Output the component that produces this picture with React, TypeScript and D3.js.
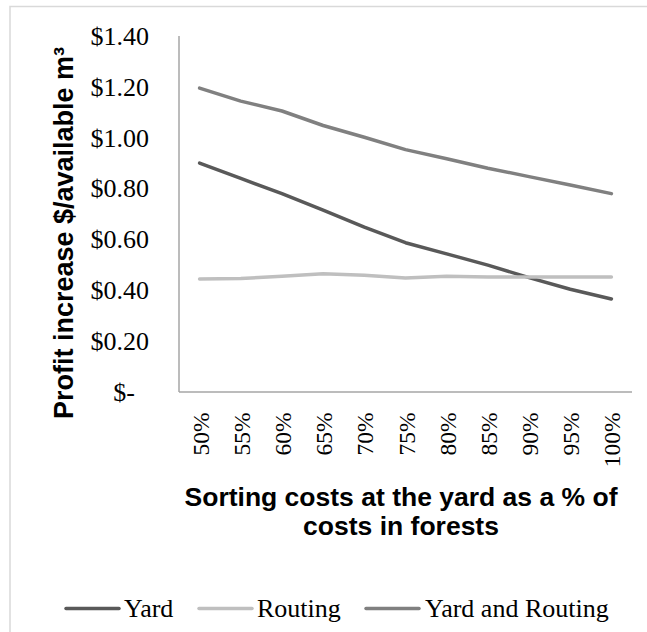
import React from "react";
import * as d3 from "d3";

const categories = ["50%", "55%", "60%", "65%", "70%", "75%", "80%", "85%", "90%", "95%", "100%"];
const yardValues = [0.9, 0.84, 0.78, 0.715, 0.648, 0.587, 0.543, 0.499, 0.45, 0.404, 0.366];
const routingValues = [0.444, 0.446, 0.455, 0.465, 0.459, 0.448, 0.455, 0.452, 0.452, 0.452, 0.452];
const yardRoutingValues = [1.195, 1.144, 1.105, 1.048, 1.002, 0.953, 0.917, 0.88, 0.847, 0.814, 0.78];
const yTicks = [0, 0.2, 0.4, 0.6, 0.8, 1.0, 1.2, 1.4];
const seriesNames = ["Yard", "Routing", "Yard and Routing"];
const seriesColors = ["#595959", "#bfbfbf", "#808080"];
const xTitleLines = ["Sorting costs at the yard as a % of", "costs in forests"];
const yTitle = "Profit increase $/available m³";

const W = 647;
const H = 632;
const plot = { left: 179, right: 632, top: 36, bottom: 392 };
const serif = "'Liberation Serif', 'Times New Roman', serif";
const sans = "'Liberation Sans', Arial, sans-serif";

export default function App() {
  const x = d3.scaleBand<string>().domain(categories).range([plot.left, plot.right]);
  const y = d3.scaleLinear().domain([0, 1.4]).range([plot.bottom, plot.top]);
  const cx = (c: string) => (x(c) as number) + x.bandwidth() / 2;
  const line = d3
    .line<number>()
    .x((_, i) => cx(categories[i]))
    .y((v) => y(v));
  const series = [yardValues, routingValues, yardRoutingValues];
  const fmt = (v: number) => (v === 0 ? "$-" : "$" + v.toFixed(2));

  const legendItems = [
    { lx: 66, tx: 124 },
    { lx: 199, tx: 257 },
    { lx: 366, tx: 425 },
  ];

  return (
    <svg
      width={W}
      height={H}
      style={{ position: "absolute", left: 0, top: 0, background: "#fff" }}
    >
      <rect x={10} y={6.5} width={W} height={H} fill="#fff" stroke="#d9d9d9" strokeWidth={1.5} />
      {/* axes */}
      <line x1={plot.left} x2={plot.left} y1={plot.top} y2={plot.bottom} stroke="#a6a6a6" strokeWidth={1.5} />
      <line x1={plot.left} x2={plot.right} y1={plot.bottom} y2={plot.bottom} stroke="#a6a6a6" strokeWidth={1.5} />
      {/* y ticks */}
      {yTicks.map((t) => (
        <text
          key={t}
          x={t === 0 ? 135 : 149}
          y={y(t)}
          dy="0.34em"
          textAnchor="end"
          fontFamily={serif}
          fontSize={26}
          fill="#000"
        >
          {fmt(t)}
        </text>
      ))}
      {/* x ticks */}
      {categories.map((c) => (
        <text
          key={c}
          transform={`translate(${cx(c) + 1},${plot.bottom + 20.5}) rotate(-90)`}
          dy="0.34em"
          textAnchor="end"
          fontFamily={serif}
          fontSize={23.5}
          fill="#000"
        >
          {c}
        </text>
      ))}
      {/* series */}
      {series.map((s, i) => (
        <path
          key={i}
          d={line(s) as string}
          fill="none"
          stroke={seriesColors[i]}
          strokeWidth={3.5}
          strokeLinejoin="round"
          strokeLinecap="round"
        />
      ))}
      {/* axis titles */}
      {xTitleLines.map((t, i) => (
        <text
          key={i}
          x={401}
          y={505.5 + i * 29.5}
          textAnchor="middle"
          fontFamily={sans}
          fontWeight="bold"
          fontSize={26.5}
          fill="#000"
        >
          {t}
        </text>
      ))}
      <text
        transform={`translate(72.5,233) rotate(-90)`}
        textAnchor="middle"
        fontFamily={sans}
        fontWeight="bold"
        fontSize={27}
        fill="#000"
      >
        {yTitle}
      </text>
      {/* legend */}
      {seriesNames.map((n, i) => (
        <g key={n}>
          <line
            x1={legendItems[i].lx}
            x2={legendItems[i].lx + 53}
            y1={608.5}
            y2={608.5}
            stroke={seriesColors[i]}
            strokeWidth={3.5}
            strokeLinecap="round"
          />
          <text x={legendItems[i].tx} y={617} fontFamily={serif} fontSize={26} fill="#000">
            {n}
          </text>
        </g>
      ))}
    </svg>
  );
}
